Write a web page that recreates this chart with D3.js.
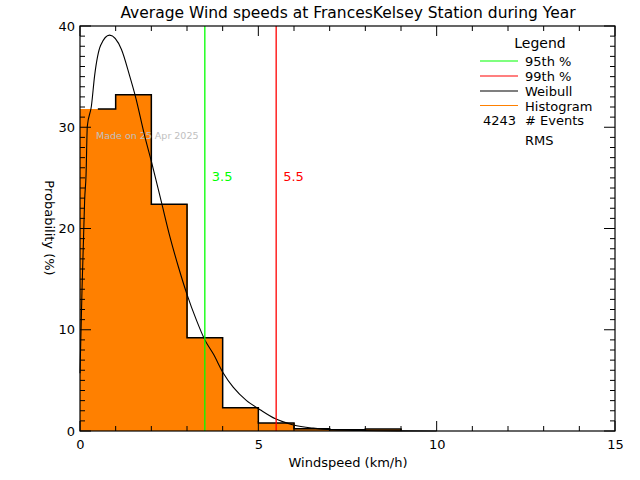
<!DOCTYPE html>
<html>
<head>
<meta charset="utf-8">
<script src="https://cdn.jsdelivr.net/npm/d3@7"></script>
<style>
  html, body { margin: 0; padding: 0; background: #fff; }
  svg { display: block; }
  text { font-family: "DejaVu Sans", "Liberation Sans", sans-serif; fill: #000; }
</style>
</head>
<body>
<svg id="chart" width="640" height="480"></svg>
<script>
// ---- Data ----
const title = "Average Wind speeds at FrancesKelsey Station during Year";
const binStarts = [0, 1, 2, 3, 4, 5, 6, 7, 8];
const binValues = [31.8, 33.2, 22.4, 9.2, 2.3, 0.8, 0.22, 0.12, 0.2];
const weibullX = [0.0, 0.056, 0.098, 0.13, 0.17, 0.205, 0.32, 0.41, 0.58, 0.83, 1.16, 1.39, 1.55, 1.81, 2.01, 2.29, 2.52, 2.76, 2.99, 3.27, 3.50, 3.74, 4.02, 4.30, 4.67, 5.05, 5.48, 5.98, 6.54, 7.10, 7.85, 9.0, 10.0];
const weibullY = [5.7, 13.9, 18.9, 22.8, 25.3, 30.1, 32.1, 35.1, 38.1, 39.1, 37.7, 35.1, 33.1, 29.2, 26.5, 22.5, 19.2, 16.2, 13.6, 10.9, 9.0, 7.6, 5.7, 4.3, 3.0, 2.1, 1.2, 0.6, 0.28, 0.12, 0.05, 0.01, 0.0];
const p95 = 3.5;
const p99 = 5.5;
const nEvents = 4243;
const xTicks = [0, 5, 10, 15];
const yTicks = [0, 10, 20, 30, 40];
const legendItems = ["95th %", "99th %", "Weibull", "Histogram"];
const legendColors = ["#00ff00", "#ff0000", "#000000", "#ff8000"];
const madeOn = "Made on 25 Apr 2025";

// ---- Layout ----
const svg = d3.select("#chart");
const L = 80, R = 615, T = 26, B = 431;
const x = d3.scaleLinear().domain([0, 15]).range([L, R]);
const y = d3.scaleLinear().domain([0, 40]).range([B, T]);

// Histogram fill
svg.append("g").attr("shape-rendering", "crispEdges").selectAll("rect").data(binStarts).join("rect")
  .attr("x", d => x(d) - 0.5)
  .attr("width", d => x(d + 1) - x(d) + 1)
  .attr("y", (d, i) => y(binValues[i]))
  .attr("height", (d, i) => y(0) - y(binValues[i]))
  .attr("fill", "#ff8000");

// Histogram outline (starts at first bin centre, as in reference)
let p = d3.path();
p.moveTo(x(binStarts[0] + 0.5), y(binValues[0]));
binStarts.forEach((d, i) => {
  if (i > 0) p.lineTo(x(d), y(binValues[i]));
  p.lineTo(x(d + 1), y(binValues[i]));
});
p.lineTo(x(binStarts[binStarts.length - 1] + 1), y(0));
svg.append("path").attr("d", p.toString()).attr("fill", "none")
  .attr("stroke", "#000").attr("stroke-width", 1.5);

// Made-on text
svg.append("text").attr("x", 96).attr("y", 139).text(madeOn)
  .style("font-size", "9.5px").style("fill", "#c0c0c0");

// Weibull curve
const line = d3.line().curve(d3.curveMonotoneX)
  .x((d, i) => x(weibullX[i])).y((d, i) => y(weibullY[i]));
svg.append("path").datum(weibullX).attr("d", line)
  .attr("fill", "none").attr("stroke", "#000").attr("stroke-width", 1.1);

// Percentile lines
[[p95, "#00ff00"], [p99, "#ff0000"]].forEach(([v, c]) => {
  svg.append("line").attr("x1", x(v)).attr("x2", x(v)).attr("y1", T).attr("y2", B)
    .attr("stroke", c).attr("stroke-width", 1.3);
  svg.append("text").attr("x", x(v) + 7).attr("y", 181).text(v.toFixed(1))
    .style("font-size", "13px").style("fill", c);
});

// Axis frame with ticks on all sides
const frame = svg.append("g");
frame.append("rect").attr("x", L).attr("y", T).attr("width", R - L).attr("height", B - T)
  .attr("fill", "none").attr("stroke", "#000").attr("stroke-width", 1.2);

const ax = frame.append("g");
d3.range(0, 16, 1).forEach(v => {
  const len = (v % 5 === 0) ? 10 : 5;
  ax.append("line").attr("x1", x(v)).attr("x2", x(v)).attr("y1", B).attr("y2", B - len).attr("stroke", "#000");
  ax.append("line").attr("x1", x(v)).attr("x2", x(v)).attr("y1", T).attr("y2", T + len).attr("stroke", "#000");
});
d3.range(0, 41, 1).forEach(v => {
  const len = (v % 10 === 0) ? 11 : 5;
  ax.append("line").attr("y1", y(v)).attr("y2", y(v)).attr("x1", L).attr("x2", L + len).attr("stroke", "#000");
  ax.append("line").attr("y1", y(v)).attr("y2", y(v)).attr("x1", R).attr("x2", R - len).attr("stroke", "#000");
});

// Tick labels via d3 axes
const gx = svg.append("g").attr("transform", `translate(0,${B})`)
  .call(d3.axisBottom(x).tickValues(xTicks).tickSize(0).tickPadding(9).tickFormat(d3.format("d")));
gx.select(".domain").remove();
gx.selectAll("text").style("font-size", "13px");
const gy = svg.append("g").attr("transform", `translate(${L},0)`)
  .call(d3.axisLeft(y).tickValues(yTicks).tickSize(0).tickPadding(5).tickFormat(d3.format("d")));
gy.select(".domain").remove();
gy.selectAll("text").style("font-size", "13px");

// Title & axis labels
svg.append("text").attr("x", 348).attr("y", 18).attr("text-anchor", "middle")
  .style("font-size", "15.5px").text(title);
svg.append("text").attr("x", 348).attr("y", 467).attr("text-anchor", "middle")
  .style("font-size", "13px").text("Windspeed (km/h)");
svg.append("text").attr("transform", "translate(45,228) rotate(90)").attr("text-anchor", "middle")
  .style("font-size", "13px").text("Probability (%)");

// Legend
svg.append("text").attr("x", 540).attr("y", 48).attr("text-anchor", "middle")
  .style("font-size", "14px").text("Legend");
const legY = [61, 76, 91, 105.5];
legendItems.forEach((t, i) => {
  svg.append("line").attr("x1", 480).attr("x2", 518).attr("y1", legY[i]).attr("y2", legY[i])
    .attr("stroke", legendColors[i]).attr("stroke-width", 1.2);
  svg.append("text").attr("x", 525).attr("y", legY[i] + 5).style("font-size", "13px").text(t);
});
svg.append("text").attr("x", 516).attr("y", 125).attr("text-anchor", "end").style("font-size", "13px").text(nEvents);
svg.append("text").attr("x", 525).attr("y", 125).style("font-size", "13px").text("# Events");
svg.append("text").attr("x", 525).attr("y", 145).style("font-size", "13px").text("RMS");
</script>
</body>
</html>
